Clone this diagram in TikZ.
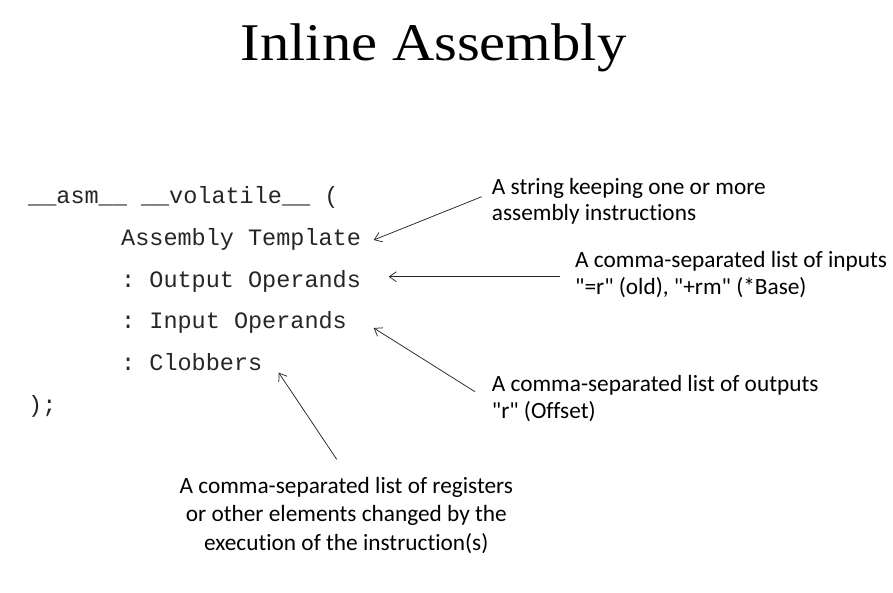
\documentclass[tikz,border=0pt]{standalone}
\usepackage{fontspec}
\setmainfont{Carlito}[Ligatures={NoCommon}]
\newfontfamily\codefont{Liberation Mono}
\newfontfamily\titlefont{Liberation Serif}
\usetikzlibrary{arrows.meta,calc}
\newcommand{\dq}{\textquotedbl}
\frenchspacing
\begin{document}
\begin{tikzpicture}[x=1pt,y=-1pt,
  code/.style={anchor=base west,inner sep=0pt,text=black!85,font=\codefont\fontsize{23.5}{28}\selectfont\frenchspacing},
  note/.style={anchor=base west,inner sep=0pt,align=left,font=\fontsize{23.3}{26.5}\selectfont},
  callout/.style={draw=black!85,line width=0.75pt,-{Straight Barb[length=7pt,width=10pt]}}]
\useasboundingbox (0,0) rectangle (893,592);

% title
\node[anchor=base,inner sep=0pt,font=\titlefont\fontsize{53}{60}\selectfont] (title) at (433.5,60) {\scalebox{1.105}[1]{Inline Assembly}};

% code listing
\node[code] (l1) at (28,203) {\_\_asm\_\_ \_\_volatile\_\_ (};
\node[code] (tmpl) at (121,245) {Assembly Template};
\node[code] (outp) at (121,287) {: Output Operands};
\node[code] (inp) at (121,328) {: Input Operands};
\node[code] (clob) at (121,370) {: Clobbers};
\node[code] (l6) at (28,412) {);};

% annotations (placed by the baseline of their last line)
\node[note] (a1) at (491.7,220.7) {A string keeping one or more\\assembly instructions};
\node[note] (a2) at (575,294) {A comma-separated list of inputs\\\dq=r\dq{} (old), \dq+rm\dq{} (*Base)};
\node[note] (a3) at (491.7,418.3) {A comma-separated list of outputs\\\dq r\dq{} (Offset)};
\node[note,anchor=base,align=center,font=\fontsize{23.3}{28.3}\selectfont] (a4) at (346.3,550) {A comma-separated list of registers\\or other elements changed by the\\execution of the instruction(s)};

% callout arrows
\draw[callout] ($(a1.base west)+(-10,-24)$) -- ($(tmpl.base east)+(12.6,-5)$);
\draw[callout] ($(a2.base west)+(-15,-17.3)$) -- ($(outp.base east)+(27.6,-10.3)$);
\draw[callout] ($(a3.base west)+(-16.7,-26.6)$) -- ($(inp.base east)+(26.7,0)$);
\draw[callout] ($(a4.base)+(-9.6,-90.7)$) -- ($(clob.base east)+(16.3,2.7)$);
\end{tikzpicture}
\end{document}
